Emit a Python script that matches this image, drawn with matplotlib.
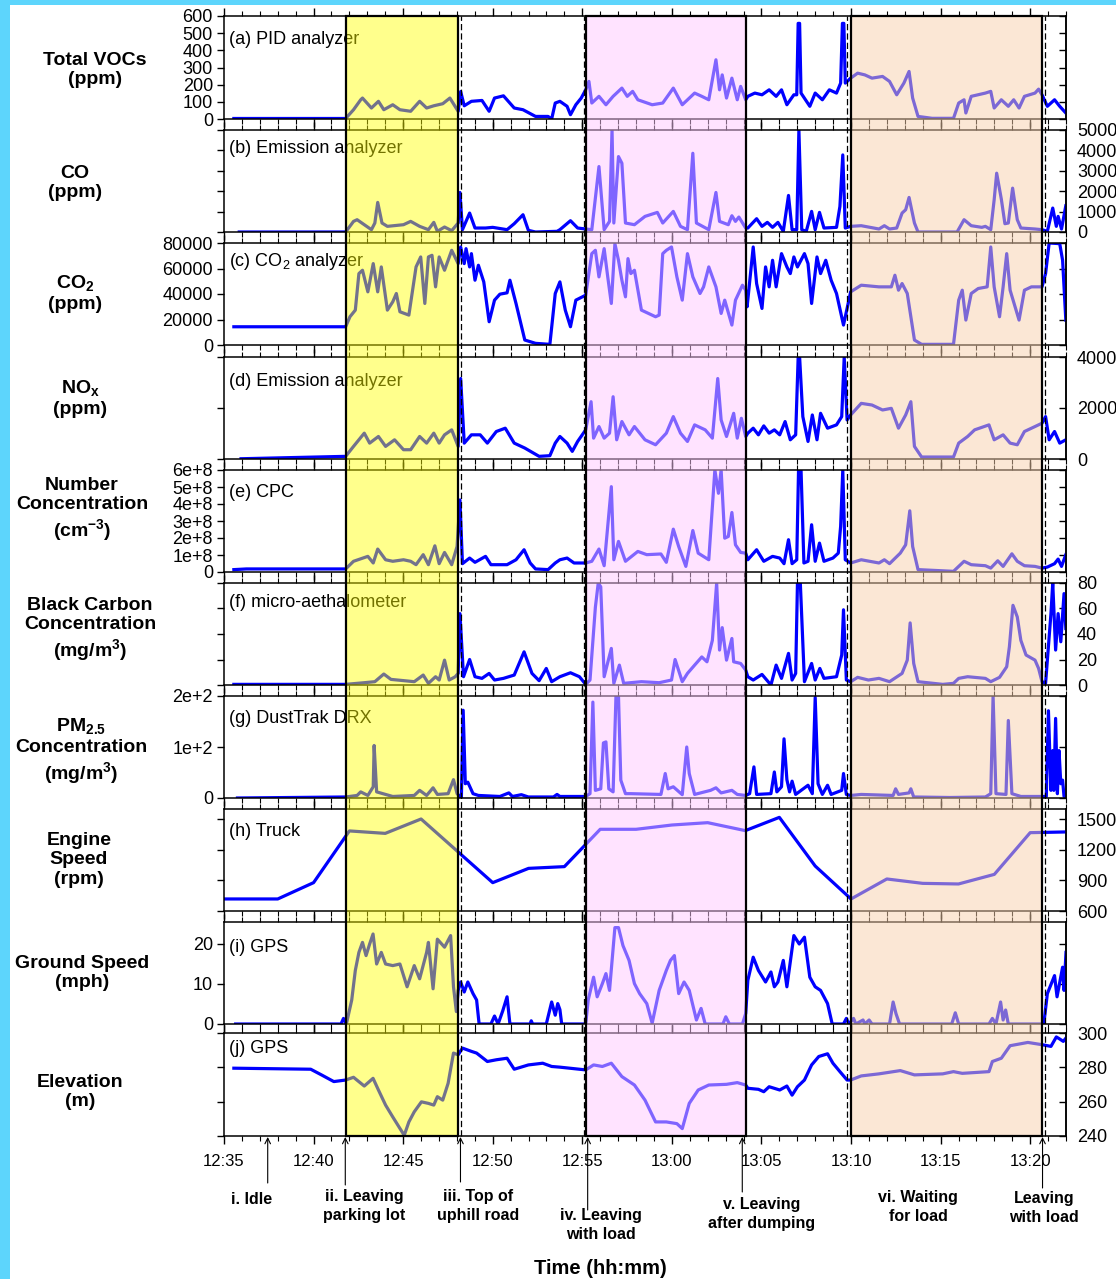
import matplotlib
matplotlib.use('Agg')
import matplotlib.pyplot as plt
import matplotlib.transforms as mtransforms
from matplotlib.patches import Rectangle
from matplotlib.lines import Line2D
from matplotlib.ticker import MultipleLocator

plt.rcParams['font.family'] = ['Liberation Sans', 'DejaVu Sans']
plt.rcParams['mathtext.fontset'] = 'custom'
plt.rcParams['mathtext.rm'] = 'Liberation Sans'
plt.rcParams['mathtext.it'] = 'Liberation Sans:italic'
plt.rcParams['mathtext.bf'] = 'Liberation Sans:bold'
plt.rcParams['mathtext.default'] = 'regular'

# ---------------- data: (minutes after 12:35, value) ----------------
voc = [(0.55,3),(6.79,3),(7.23,54),(7.63,112),(7.73,122),(8.23,64),(8.62,103),(8.92,54),(9.42,83),(9.82,54),
       (10.42,45),(10.92,103),(11.31,64),(11.71,77),(12.21,89),(12.61,122),(13.07,45),(13.21,160),(13.41,77),
       (13.81,103),(14.40,108),(14.80,45),(15.10,122),(15.60,135),(16.20,64),(16.69,54),(17.39,15),(18.09,15),
       (18.29,0),(18.49,93),(18.75,103),(19.15,74),(19.34,25),(19.64,83),(19.94,122),(20.19,170),(20.37,219),
       (20.53,93),(20.93,132),(21.32,83),(21.72,132),(22.21,180),(22.51,132),(22.81,161),(23.10,112),(23.90,83),
       (24.49,93),(25.08,180),(25.58,83),(26.27,151),(26.67,132),(27.06,112),(27.46,345),(27.66,170),(27.81,257),
       (28.05,122),(28.35,238),(28.65,112),(28.84,190),(29.12,112),(29.24,132),(29.63,151),(30.03,141),(30.43,170),
       (30.82,132),(31.12,170),(31.42,83),(31.81,141),(31.97,141),(32.05,557),(32.13,557),(32.21,151),(32.70,74),
       (33.00,151),(33.40,112),(33.79,170),(34.19,151),(34.42,209),(34.52,557),(34.60,557),(34.68,209),(34.98,238),
       (35.37,267),(35.77,257),(36.17,238),(36.76,248),(37.15,219),(37.55,141),(37.95,209),(38.24,277),(38.44,122),
       (38.74,15),(39.53,4),(40.72,4),(41.01,93),(41.31,112),(41.41,35),(41.71,132),(42.50,151),(42.80,161),
       (42.99,64),(43.39,112),(43.78,74),(44.08,112),(44.38,64),(44.68,132),(45.27,151),(45.47,174),(45.66,141),
       (45.96,74),(46.36,112),(46.65,74),(46.99,35)]

co = [(0.85,0),(6.79,0),(7.23,521),(7.43,603),(7.83,358),(8.23,114),(8.42,440),(8.58,1450),(8.82,440),(9.12,277),
      (10.02,358),(10.42,521),(10.92,277),(11.41,114),(11.71,472),(11.91,33),(12.31,244),(12.71,65),(13.07,440),
      (13.17,1938),(13.31,114),(13.71,928),(14.01,195),(14.60,195),(15.00,228),(15.80,114),(16.20,407),(16.69,847),
      (16.99,81),(17.39,0),(18.59,33),(18.75,114),(19.34,554),(19.74,195),(20.19,147),(20.53,114),(20.93,3208),
      (21.22,114),(21.52,521),(21.66,5000),(21.76,440),(22.02,3697),(22.21,3371),(22.41,440),(22.91,358),(23.50,765),
      (24.19,961),(24.49,440),(25.08,1010),(25.48,277),(25.87,114),(26.17,3860),(26.37,440),(27.06,114),(27.46,1938),
      (27.66,521),(28.15,358),(28.35,798),(28.55,521),(28.74,733),(29.12,195),(29.24,195),(29.73,651),(30.03,277),
      (30.33,472),(30.62,228),(30.92,472),(31.22,33),(31.51,1792),(31.71,114),(31.97,114),(32.09,5000),(32.25,114),
      (32.50,33),(32.80,1010),(33.00,114),(33.24,961),(33.49,195),(34.19,228),(34.38,1254),(34.54,3779),(34.68,195),
      (34.98,277),(35.57,309),(36.56,147),(36.86,309),(37.15,147),(37.55,195),(37.85,928),(38.05,1091),(38.24,1694),
      (38.54,440),(38.74,0),(40.92,0),(41.31,603),(41.71,309),(42.30,228),(42.50,277),(42.80,114),(42.99,1580),
      (43.13,2883),(43.39,1612),(43.59,407),(43.78,440),(44.02,2150),(44.28,603),(44.48,195),(45.27,147),(45.66,114),
      (45.96,33),(46.26,1173),(46.46,277),(46.56,765),(46.75,147),(46.99,1287)]

co2 = [(0.55,14300),(6.79,14300),(7.03,22150),(7.33,27362),(7.53,56026),(7.73,58632),(8.03,41694),(8.33,63844),
       (8.58,41694),(8.78,61238),(9.12,27362),(9.42,33876),(9.62,40391),(9.82,26059),(10.32,23453),(10.72,61238),
       (10.98,69055),(11.21,32573),(11.41,69055),(11.61,70358),(11.81,45603),(12.01,69055),(12.31,58632),(12.71,74267),
       (13.07,63844),(13.21,76873),(13.41,63844),(13.51,75570),(13.71,61238),(13.81,71661),(14.01,50814),(14.20,62541),
       (14.50,49511),(14.80,18241),(15.10,35179),(15.40,39870),(15.80,40912),(15.96,50814),(16.30,32573),(16.79,3909),
       (17.39,1303),(18.19,521),(18.49,40391),(18.75,49511),(19.05,27362),(19.34,14332),(19.64,35179),(20.19,39088),
       (20.53,71661),(20.73,74267),(20.93,53420),(21.22,75570),(21.42,53420),(21.62,32573),(21.82,79479),(22.02,66450),
       (22.21,50814),(22.41,37785),(22.55,67752),(22.71,56026),(22.91,58632),(23.30,27362),(24.09,22150),(24.29,23453),
       (24.49,71661),(24.69,74267),(24.98,76873),(25.28,53420),(25.58,35179),(25.87,71661),(26.17,53420),(26.57,40391),
       (26.77,45603),(27.06,61238),(27.46,45603),(27.75,24756),(27.95,35179),(28.35,15635),(28.55,35179),(28.94,46906),
       (29.12,42997),(29.20,29967),(29.54,76873),(29.73,48208),(30.03,28664),(30.23,61238),(30.43,45603),(30.62,66450),
       (30.82,45603),(31.12,71661),(31.42,61238),(31.61,56026),(31.81,69055),(32.01,61238),(32.40,71661),(32.60,63844),
       (32.80,32573),(33.10,69055),(33.30,56026),(33.59,66450),(33.89,50814),(34.19,40391),(34.58,15635),(34.98,41694),
       (35.57,46906),(36.56,45603),(37.25,45603),(37.45,54723),(37.65,42997),(37.85,48208),(38.14,40391),(38.54,3909),
       (38.94,521),(40.72,521),(41.01,35179),(41.21,42997),(41.41,19544),(41.71,40391),(42.10,44300),(42.60,45603),
       (42.80,76873),(42.99,45603),(43.29,22150),(43.49,45603),(43.69,71661),(43.88,42997),(44.38,19544),(44.68,42997),
       (45.07,45603),(45.66,45603),(45.86,56026),(46.06,80000),(46.65,79479),(46.81,66450),(46.99,19544)]

nox = [(0.95,10),(6.79,104),(7.23,494),(7.83,1013),(8.13,623),(8.62,883),(9.02,494),(9.52,753),(10.02,364),
       (10.42,364),(10.92,883),(11.31,623),(11.71,1013),(12.01,623),(12.31,948),(12.71,1143),(13.07,494),(13.21,3156),
       (13.41,623),(13.81,948),(14.30,948),(14.70,623),(15.20,1078),(15.70,1208),(16.20,623),(16.79,429),(17.59,104),
       (18.19,130),(18.49,623),(18.75,883),(19.15,623),(19.44,299),(19.74,688),(20.19,1143),(20.49,2247),(20.63,818),
       (20.93,1273),(21.22,818),(21.52,1013),(21.72,2442),(21.92,753),(22.21,1468),(22.61,948),(22.91,1273),(23.50,753),
       (24.09,558),(24.69,1013),(25.08,1662),(25.48,1013),(25.87,688),(26.27,1338),(26.86,1143),(27.26,818),(27.56,3156),
       (27.75,1532),(28.05,883),(28.45,1792),(28.65,818),(28.88,1597),(29.12,883),(29.24,1013),(29.54,1208),(29.83,948),
       (30.13,1299),(30.43,1013),(30.72,1143),(31.02,948),(31.32,1468),(31.61,753),(31.91,948),(32.05,4000),(32.13,4000),
       (32.31,1662),(32.60,688),(32.84,1727),(33.10,753),(33.30,1792),(33.69,1208),(34.19,1338),(34.48,1662),(34.62,4000),
       (34.78,1532),(34.98,1727),(35.57,2182),(36.17,2117),(36.76,1922),(37.25,1987),(37.65,1208),(38.05,1727),
       (38.34,2247),(38.54,494),(38.94,78),(40.72,78),(41.01,623),(41.51,883),(41.90,1143),(42.70,1338),(42.99,753),
       (43.49,948),(43.88,623),(44.28,558),(44.68,1078),(45.27,1273),(45.66,1403),(45.86,1662),(46.06,753),(46.36,1078),
       (46.65,623),(46.99,753)]

cpc = [(0.55,0.14),(1.25,0.18),(6.79,0.18),(7.23,0.63),(8.03,0.92),(8.33,0.53),(8.58,1.35),(9.02,0.72),(9.42,0.63),
       (10.02,0.72),(10.42,0.63),(10.72,0.43),(11.12,1.02),(11.41,0.43),(11.77,1.54),(12.01,0.49),(12.31,1.15),
       (12.71,0.43),(13.01,1.5),(13.17,4.24),(13.31,0.49),(13.71,0.82),(14.01,0.57),(14.60,0.92),(14.90,0.43),
       (15.80,0.43),(16.30,0.72),(16.75,1.31),(17.09,0.53),(17.39,0.18),(18.09,0.14),(18.49,0.53),(18.75,0.72),
       (19.15,0.82),(19.54,0.53),(20.19,0.53),(20.53,0.63),(20.93,1.35),(21.22,0.37),(21.62,5.02),(21.76,0.72),
       (22.02,1.8),(22.41,0.63),(23.10,1.21),(23.60,1.02),(24.39,1.06),(24.69,0.57),(25.08,2.52),(25.38,1.5),
       (25.78,0.33),(26.17,2.44),(26.47,1.11),(27.06,0.72),(27.40,6.0),(27.60,4.63),(27.75,6.0),(27.95,1.99),
       (28.15,2.09),(28.35,3.5),(28.55,1.6),(28.84,1.15),(29.12,1.11),(29.24,0.72),(29.73,1.31),(30.13,0.63),
       (30.62,0.92),(31.02,0.82),(31.26,0.49),(31.51,1.9),(31.71,0.49),(31.97,0.72),(32.07,6.0),(32.21,6.0),
       (32.37,0.53),(32.60,0.63),(32.80,2.78),(33.00,0.63),(33.24,1.7),(33.49,0.63),(33.99,0.82),(34.29,1.11),
       (34.42,2.68),(34.54,6.0),(34.68,0.72),(34.98,0.53),(35.57,0.72),(36.56,0.53),(36.86,0.72),(37.15,0.49),
       (37.75,1.11),(38.05,1.6),(38.28,3.6),(38.44,1.5),(38.74,0.14),(40.72,0.04),(41.31,0.63),(41.71,0.43),
       (42.50,0.37),(42.80,0.23),(43.19,0.66),(43.49,0.33),(43.98,1.07),(44.28,0.63),(44.68,0.37),(45.27,0.33),
       (45.66,0.23),(45.96,0.29),(46.36,0.49),(46.56,0.76),(46.75,0.33),(46.99,1.02)]

bc = [(0.55,0.5),(6.79,0.5),(7.83,1.8),(8.42,2.6),(8.92,8.6),(9.32,4.4),(10.62,2.6),(11.12,7.8),(11.41,1.3),
      (11.81,6.5),(12.01,3.9),(12.31,19.5),(12.57,3.9),(12.91,6.5),(13.07,9.1),(13.17,56),(13.37,6.5),(13.71,20),
      (14.01,6.5),(14.40,5.2),(14.80,9.1),(15.10,3.9),(15.60,5.2),(16.20,7.8),(16.75,26),(17.19,9.1),(17.59,3.4),
      (17.99,13),(18.29,2.6),(18.75,6.5),(19.34,9.6),(19.84,6.5),(20.19,0.5),(20.43,3.9),(20.73,61),(20.89,80),
      (21.03,77),(21.22,6.5),(21.62,28.7),(21.76,1.3),(22.07,15.6),(22.31,1.3),(23.30,2.6),(24.29,1.8),(24.98,3.9),
      (25.18,20),(25.58,2.6),(25.87,9.1),(26.27,15.6),(26.67,22),(26.96,18.2),(27.26,35),(27.50,80),(27.66,27.4),
      (27.81,45),(28.05,19.5),(28.35,36.5),(28.45,18.2),(28.84,16.9),(29.12,11.7),(29.24,6.5),(29.54,3.9),(30.03,8.3),
      (30.53,0),(30.82,15.6),(31.12,5.2),(31.51,24.8),(31.71,3.9),(31.91,9.1),(32.01,80),(32.17,80),(32.40,2.6),
      (32.80,16.9),(33.00,3.9),(33.26,13),(33.49,5.2),(34.19,6.5),(34.48,23.5),(34.58,59),(34.74,3.9),(34.98,2.6),
      (35.37,6),(35.97,3.9),(36.56,5.2),(37.15,2.6),(37.85,9.1),(38.14,19.5),(38.30,48.7),(38.50,16.9),(38.74,2.6),
      (40.12,0.5),(40.72,1.3),(41.01,5.2),(41.51,6.5),(42.50,5.2),(42.80,2.6),(43.29,6),(43.69,14.3),(43.84,30),
      (44.04,62.5),(44.28,53.4),(44.48,35),(44.77,23.5),(45.27,19.5),(45.47,13),(45.66,2.6),(45.86,1.3),(46.16,56),
      (46.26,80),(46.42,27.4),(46.56,56),(46.71,33.9),(46.89,71.7),(46.99,44.3)]

pm25 = [(0.75,0),(6.79,2),(7.43,5),(7.63,12),(8.03,5),(8.33,22),(8.38,103),(8.52,12),(9.42,3),(10.62,5),(10.92,15),
        (11.31,5),(11.67,20),(11.91,7),(12.51,8.5),(12.81,36),(13.01,8.5),(13.25,0),(13.35,172),(13.47,28),(13.61,31),
        (13.90,8.5),(14.20,5),(15.40,3),(15.90,10),(16.10,3),(16.60,6.5),(16.99,2),(18.39,2),(18.59,7),(18.75,3),
        (20.19,3),(20.43,8.5),(20.59,188),(20.73,15),(21.03,18),(21.18,108),(21.32,110),(21.48,18),(21.72,12),
        (21.88,200),(22.02,200),(22.15,35),(22.41,8.5),(22.71,8.5),(24.39,7),(24.63,48),(24.79,18),(25.08,22),
        (25.58,6.5),(25.83,100),(25.97,48),(26.27,7),(27.16,15),(27.46,20),(27.75,10),(28.35,15),(28.65,7),(29.12,5),
        (29.34,8.5),(29.58,61),(29.73,7),(30.53,8.5),(30.72,51),(30.86,12),(31.12,22),(31.26,116),(31.42,36),
        (31.57,12),(31.71,33),(31.91,7),(32.60,25),(32.84,8.5),(33.00,197),(33.16,28),(33.40,7),(33.69,25),(33.89,7),
        (34.48,15),(34.58,48),(34.74,7),(34.98,5),(35.57,7),(37.35,5),(37.49,18),(37.65,7),(38.24,10),(38.34,18),
        (38.50,2),(40.52,1),(42.50,2),(42.80,8.5),(42.93,200),(43.09,8.5),(43.65,7),(43.78,152),(43.98,8.5),
        (44.48,3),(45.66,3),(45.90,3),(46.02,171),(46.16,15),(46.26,93),(46.32,15),(46.42,156),(46.52,8.5),
        (46.61,93),(46.71,28),(46.81,35),(46.89,3),(46.99,3)]

rpm = [(0,718),(3.0,718),(5.0,878),(7.0,1385),(9.0,1361),(11.0,1502),(15.0,878),(17.0,1018),(19.0,1035),
       (21.0,1401),(23.0,1401),(25.0,1443),(27.0,1466),(29.1,1388),(31.0,1518),(33.0,1041),(35.0,718),(37.0,914),
       (39.0,871),(41.0,865),(43.0,959),(45.0,1368),(47.0,1375)]

gps_speed = [(0.65,0),(6.53,0),(6.67,1.4),(6.83,0),(7.13,6),(7.33,13.4),(7.53,17.9),(7.73,20.4),(7.93,17.1),(8.13,20),
             (8.32,22.5),(8.52,15),(8.78,17.9),(9.02,15),(9.42,14.6),(9.82,15),(10.22,9.3),(10.62,14.6),(10.92,11.3),
             (11.31,17.9),(11.41,20.4),(11.67,8.8),(11.91,21.2),(12.31,19.2),(12.65,22.1),(12.81,9.3),(12.97,3.1),
             (13.07,8.4),(13.21,10.5),(13.41,8),(13.61,10.5),(13.90,7.6),(14.10,6),(14.24,0),(14.90,0),(15.10,2),
             (15.30,0),(15.56,3.3),(15.80,6.8),(15.96,0),(17.09,0),(17.15,0.8),(17.23,0),(17.99,0),(18.29,5.5),
             (18.49,2.2),(18.63,5.1),(18.75,3.6),(18.85,0),(20.19,0),(20.33,6),(20.63,11.7),(20.83,6.8),(21.12,10.1),
             (21.32,12.6),(21.52,8.4),(21.82,24.1),(22.02,24.1),(22.27,19.6),(22.61,15.9),(22.91,10.1),(23.20,7.6),
             (23.60,5.1),(23.90,0.2),(24.29,8.4),(24.69,13.4),(24.92,15.9),(25.14,17.1),(25.38,7.6),(25.68,10.5),
             (25.97,8.4),(26.37,1),(26.63,3.9),(26.86,0),(27.85,0),(28.01,1.8),(28.21,0),(28.94,0),(29.12,2.6),
             (29.24,10.9),(29.54,16.7),(29.83,13.4),(30.23,10.5),(30.53,13),(30.72,9.3),(30.92,10.5),(31.22,15.9),
             (31.42,9.3),(31.81,22.1),(32.11,20),(32.40,21.7),(32.70,11.7),(33.00,9.3),(33.30,8.4),(33.69,5.1),
             (33.95,0),(34.58,0),(34.74,1.4),(34.88,0),(35.14,1.4),(35.27,0),(35.67,1),(35.77,0),(36.01,1),(36.17,0),
             (37.15,0),(37.35,5.5),(37.51,2.6),(37.71,0),(40.62,0),(40.82,2.8),(41.01,0),(42.70,0),(42.89,1.4),
             (43.09,0),(43.35,5.5),(43.49,1),(43.63,3.5),(43.78,0),(45.76,0),(45.96,7.6),(46.36,12.1),(46.50,6.8),
             (46.81,14.2),(46.89,8.4),(47.0,17.9)]

elevation = [(0.55,279.5),(4.84,278.9),(5.44,275.6),(6.13,271.7),(6.79,272.6),(7.23,274.2),(7.83,269.1),(8.32,273.6),
             (8.62,266.8),(9.02,258.0),(9.42,251.1),(10.06,240.4),(10.32,248.2),(10.62,254.1),(11.02,259.9),(11.41,259),
             (11.71,258),(11.91,262.9),(12.21,260.9),(12.51,270.7),(12.81,288.3),(13.07,287.3),(13.31,291.2),
             (13.81,289.3),(14.10,288.3),(14.70,283.4),(15.20,284.4),(15.80,285.3),(16.20,278.9),(16.99,281.4),
             (17.79,282.4),(18.29,280.5),(18.75,280.1),(20.19,278.5),(20.63,281.4),(21.12,280.5),(21.62,282.4),
             (22.21,274.6),(22.91,269.7),(23.50,260.9),(24.09,248.2),(24.69,248.2),(25.28,247.2),(25.58,244.3),
             (25.97,259),(26.47,266.8),(27.06,269.7),(28.05,270.1),(28.65,271.1),(29.12,269.7),(29.24,267.8),
             (29.83,267.2),(30.13,265.8),(30.43,268.7),(31.02,266.8),(31.42,269.1),(31.71,263.8),(32.01,268.7),
             (32.40,272.6),(32.80,281.4),(33.20,286.3),(33.69,287.9),(33.99,282.4),(34.38,277.5),(34.78,272.6),
             (34.98,272.6),(35.57,275),(36.56,276.2),(37.75,278.1),(38.54,275.6),(40.12,276.2),(40.72,277.5),
             (41.21,276.5),(41.81,276.9),(42.70,277.5),(42.89,283.4),(43.39,285.3),(43.88,292.6),(44.87,294.5),
             (45.66,293.2),(46.16,292.2),(46.46,297.7),(46.65,296.5),(46.85,295.1),(47.0,297.1)]

time_ticks = [0, 5, 10, 15, 20, 25, 30, 35, 40, 45]
time_labels = ['12:35', '12:40', '12:45', '12:50', '12:55', '13:00', '13:05', '13:10', '13:15', '13:20']

# shaded periods (start, end) in minutes after 12:35
periods = [(6.79, 13.07), (20.19, 29.12), (34.98, 45.66)]
period_colors = ['#FFFF00', '#FFC8FF', '#F9D1AD']
period_alpha = [0.45, 0.5, 0.5]
dashed_times = [13.25, 20.12, 34.78, 45.84]

event_times = [2.44, 6.77, 13.2, 20.3, 28.93, 45.69]
event_tail_px = [1183, 1185, 1182, 1210, 1192, 1188]
annotations = [('i. Idle', 1.56, 1200), ('ii. Leaving\nparking lot', 7.81, 1206),
               ('iii. Top of\nuphill road', 14.2, 1206), ('iv. Leaving\nwith load', 21.04, 1225),
               ('v. Leaving\nafter dumping', 30.02, 1214), ('vi. Waiting\nfor load', 38.75, 1207),
               ('Leaving\nwith load', 45.76, 1208)]

panels = [
    dict(data=voc, ylim=(0, 600), ticks=[0,100,200,300,400,500,600], labels=['0','100','200','300','400','500','600'],
         side='left', text='(a) PID analyzer', ty=0.77,
         ylabel='Total VOCs\n(ppm)', lx=95, ly=70),
    dict(data=co, ylim=(0, 5000), ticks=[0,1000,2000,3000,4000,5000], labels=['0','1000','2000','3000','4000','5000'],
         side='right', text='(b) Emission analyzer', ty=0.82,
         ylabel='CO\n(ppm)', lx=75, ly=183),
    dict(data=co2, ylim=(0, 80000), ticks=[0,20000,40000,60000,80000], labels=['0','20000','40000','60000','80000'],
         side='left', text='(c) CO$_2$ analyzer', ty=0.82,
         ylabel='CO$_\\mathbf{2}$\n(ppm)', lx=75, ly=293),
    dict(data=nox, ylim=(0, 4000), ticks=[0,2000,4000], labels=['0','2000','4000'],
         side='right', text='(d) Emission analyzer', ty=0.76,
         ylabel='NO$_\\mathbf{x}$\n(ppm)', lx=80, ly=398),
    dict(data=cpc, ylim=(0, 6), ticks=[0,1,2,3,4,5,6], labels=['0','1e+8','2e+8','3e+8','4e+8','5e+8','6e+8'],
         side='left', text='(e) CPC', ty=0.78,
         ylabel='Number\nConcentration\n(cm$^\\mathbf{-3}$)', lx=82, ly=510),
    dict(data=bc, ylim=(0, 80), ticks=[0,20,40,60,80], labels=['0','20','40','60','80'],
         side='right', text='(f) micro-aethalometer', ty=0.81,
         ylabel='Black Carbon\nConcentration\n(mg/m$^\\mathbf{3}$)', lx=90, ly=630),
    dict(data=pm25, ylim=(0, 200), ticks=[0,100,200], labels=['0','1e+2','2e+2'],
         side='left', text='(g) DustTrak DRX', ty=0.78,
         ylabel='PM$_\\mathbf{2.5}$\nConcentration\n(mg/m$^\\mathbf{3}$)', lx=81, ly=751),
    dict(data=rpm, ylim=(600, 1600), ticks=[600,900,1200,1500], labels=['600','900','1200','1500'],
         side='right', text='(h) Truck', ty=0.78,
         ylabel='Engine\nSpeed\n(rpm)', lx=79, ly=860),
    dict(data=gps_speed, ylim=(0, 25.5), ticks=[0,10,20], labels=['0','10','20'],
         side='left', text='(i) GPS', ty=0.75,
         ylabel='Ground Speed\n(mph)', lx=82, ly=973),
    dict(data=elevation, ylim=(240, 300), ticks=[240,260,280,300], labels=['240','260','280','300'],
         side='right', text='(j) GPS', ty=0.85,
         ylabel='Elevation\n(m)', lx=80, ly=1092),
]

# ---------------- layout ----------------
W, H = 1116, 1279
fig = plt.figure(figsize=(W / 100, H / 100), dpi=100)
panel_px = [(16,119),(130,232),(243,345),(357,459),(470,572),(583,685),(696,798),(809,911),(922,1024),(1033,1136)]
X0, X1 = 224, 1066

def fy(px):
    return 1 - px / H

axes = []
for i, (p, (top, bot)) in enumerate(zip(panels, panel_px)):
    ax = fig.add_axes([X0 / W, fy(bot), (X1 - X0) / W, (bot - top) / H])
    t = [a for a, b in p['data']]
    v = [b for a, b in p['data']]
    ax.plot(t, v, color='#0000FF', lw=2.3, solid_joinstyle='round', clip_on=True)
    ax.set_xlim(0, 47)
    ax.set_ylim(*p['ylim'])
    ax.set_xticks(time_ticks)
    ax.xaxis.set_minor_locator(MultipleLocator(1))
    ax.tick_params(axis='x', which='both', top=True, bottom=True, direction='out',
                   labelbottom=(i == len(panels) - 1), labelsize=12, pad=7)
    ax.tick_params(axis='x', which='major', length=6, width=1)
    ax.tick_params(axis='x', which='minor', length=3.5, width=0.8)
    if i == len(panels) - 1:
        ax.set_xticklabels(time_labels)
    for s in ax.spines.values():
        s.set_linewidth(1.1)
    ax.set_yticks(p['ticks'])
    ax.tick_params(axis='y', which='both', direction='out', length=5, width=1, labelsize=13, pad=3,
                   labelleft=(p['side'] == 'left'), right=False)
    if p['side'] == 'left':
        ax.set_yticklabels(p['labels'])
    sec = ax.secondary_yaxis('right')
    sec.set_yticks(p['ticks'])
    if p['side'] == 'right':
        sec.set_yticklabels(p['labels'])
        sec.tick_params(axis='y', direction='in', length=5, width=1, labelsize=13, pad=8)
    else:
        sec.tick_params(axis='y', direction='in', length=5, width=1, labelright=False)
    sec.spines['right'].set_linewidth(1.1)
    ax.text(0.006, p['ty'], p['text'], transform=ax.transAxes, ha='left', va='center', fontsize=13)
    fig.text(p['lx'] / W, fy(p['ly']), p['ylabel'], ha='center', va='center', fontsize=14,
             fontweight='bold', linespacing=1.2, multialignment='center')
    axes.append(ax)

axb = axes[-1]
trans = mtransforms.blended_transform_factory(axb.transData, fig.transFigure)
y_top, y_bot = fy(panel_px[0][0]), fy(panel_px[-1][1])

for (a, b), c, al in zip(periods, period_colors, period_alpha):
    fig.add_artist(Rectangle((a, y_bot), b - a, y_top - y_bot, transform=trans, facecolor=c,
                             alpha=al, edgecolor='none', zorder=5))
    fig.add_artist(Rectangle((a, y_bot), b - a, y_top - y_bot, transform=trans, fill=False,
                             edgecolor='black', lw=1.6, zorder=7))
for d in dashed_times:
    fig.add_artist(Line2D([d, d], [y_bot, y_top], transform=trans, color='black', lw=0.9,
                          dashes=(5, 2.5), zorder=6))

for et, tail in zip(event_times, event_tail_px):
    axb.annotate('', xy=(et, fy(1137)), xycoords=trans, xytext=(et, fy(tail)), textcoords=trans,
                 arrowprops=dict(arrowstyle='->', color='black', lw=0.8, shrinkA=0, shrinkB=0),
                 annotation_clip=False)
for s, tx, ty in annotations:
    axb.text(tx, fy(ty), s, transform=trans, ha='center', va='center', fontsize=11.5,
             fontweight='bold', linespacing=1.3, multialignment='center')

fig.text(600 / W, fy(1268), 'Time (hh:mm)', ha='center', va='center', fontsize=14.5, fontweight='bold')

# light blue frame
fig.add_artist(Rectangle((0, 0), 10 / W, 1, transform=fig.transFigure, facecolor='#5DD5FC',
                         edgecolor='none', zorder=8))
fig.add_artist(Rectangle((0, 1 - 5 / H), 1, 5 / H, transform=fig.transFigure, facecolor='#5DD5FC',
                         edgecolor='none', zorder=8))

fig.savefig('out.png', dpi=100)
